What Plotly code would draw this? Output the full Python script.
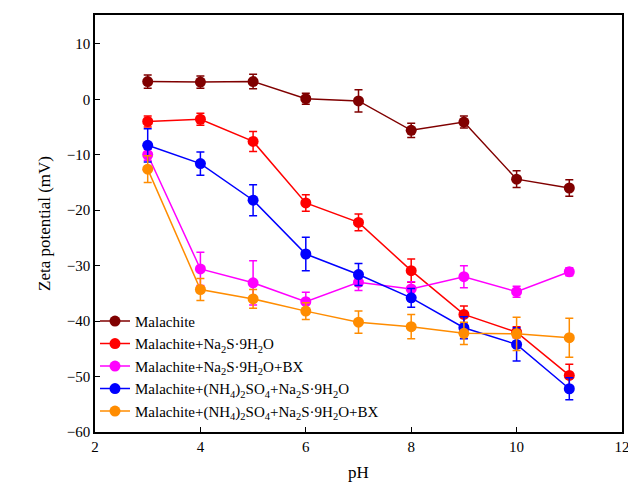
import plotly.graph_objects as go

ph = [3, 4, 5, 6, 7, 8, 9, 10, 11]

malachite = [3.2, 3.1, 3.2, 0.1, -0.3, -5.6, -4.1, -14.4, -16.0]
malachite_err = [1.2, 1.1, 1.3, 1.0, 2.0, 1.3, 1.1, 1.5, 1.5]
na2s = [-4.0, -3.6, -7.6, -18.7, -22.2, -30.9, -38.8, -42.0, -49.8]
na2s_err = [1.0, 1.1, 1.8, 1.5, 1.5, 2.1, 1.5, 1.0, 2.0]
na2s_bx = [-10.0, -30.6, -33.1, -36.5, -33.0, -34.2, -32.0, -34.7, -31.1]
na2s_bx_err = [1.0, 3.0, 4.0, 1.7, 1.5, 1.3, 2.0, 1.0, 0.7]
nh4_na2s = [-8.3, -11.6, -18.2, -27.9, -31.6, -35.8, -41.2, -44.2, -52.2]
nh4_na2s_err = [3.0, 2.1, 2.8, 3.0, 2.0, 1.7, 2.0, 3.0, 2.0]
nh4_na2s_bx = [-12.6, -34.3, -36.0, -38.2, -40.2, -41.0, -42.2, -42.3, -43.0]
nh4_na2s_bx_err = [2.4, 2.0, 1.7, 1.5, 2.0, 2.2, 2.0, 3.0, 3.5]

series = [
    ("Malachite", malachite, malachite_err, "#800000"),
    ("Malachite+Na<sub>2</sub>S·9H<sub>2</sub>O", na2s, na2s_err, "#ff0000"),
    ("Malachite+Na<sub>2</sub>S·9H<sub>2</sub>O+BX", na2s_bx, na2s_bx_err, "#ff00ff"),
    ("Malachite+(NH<sub>4</sub>)<sub>2</sub>SO<sub>4</sub>+Na<sub>2</sub>S·9H<sub>2</sub>O",
     nh4_na2s, nh4_na2s_err, "#0000ff"),
    ("Malachite+(NH<sub>4</sub>)<sub>2</sub>SO<sub>4</sub>+Na<sub>2</sub>S·9H<sub>2</sub>O+BX",
     nh4_na2s_bx, nh4_na2s_bx_err, "#ff8c00"),
]

fig = go.Figure()
for name, vals, err, color in series:
    fig.add_trace(go.Scatter(
        x=ph, y=vals, name=name, mode="lines+markers",
        line=dict(color=color, width=1.5),
        marker=dict(color=color, size=11),
        error_y=dict(type="data", array=err, color=color, thickness=1.5, width=4),
    ))

axis = dict(showline=True, linecolor="black", linewidth=1.5, mirror=True,
            ticks="inside", ticklen=5, tickcolor="black", showgrid=False,
            zeroline=False, tickfont=dict(size=15), automargin=False)
fig.update_xaxes(range=[2, 12], dtick=2,
                 title=dict(text="pH", font=dict(size=17), standoff=12), **axis)
fig.update_yaxes(range=[-60, 15.2], tick0=-60, dtick=10,
                 title=dict(text="Zeta potential (mV)", font=dict(size=17), standoff=12), **axis)
fig.update_layout(
    width=628, height=476, template="none",
    paper_bgcolor="white", plot_bgcolor="white",
    font=dict(family="Liberation Serif", color="black"),
    margin=dict(l=87, r=14, t=7, b=52, autoexpand=False),
    legend=dict(x=0.0, y=0.01, xanchor="left", yanchor="bottom",
                bgcolor="rgba(0,0,0,0)", font=dict(size=15), tracegroupgap=0),
)
fig.write_html("out.html")
